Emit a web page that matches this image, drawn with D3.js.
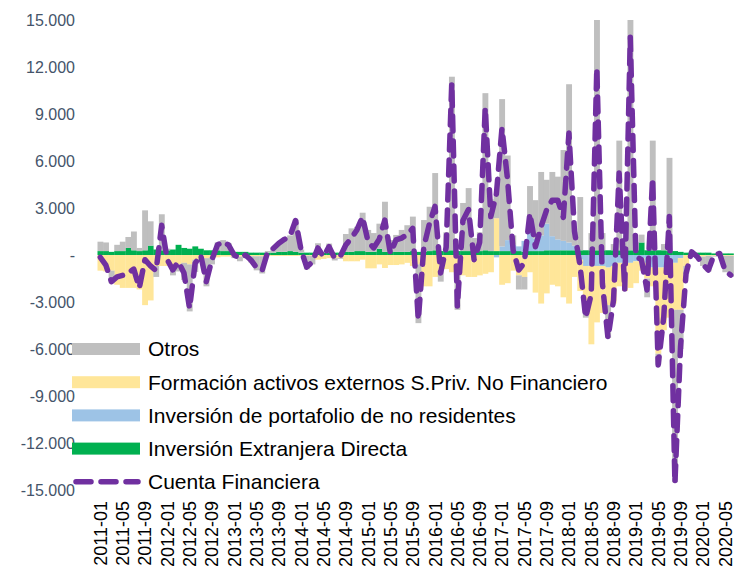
<!DOCTYPE html>
<html>
<head>
<meta charset="utf-8">
<script src="https://cdn.jsdelivr.net/npm/d3@7"></script>
<style>
  body { margin: 0; background: #fff; }
  svg { font-family: "Liberation Sans", Arial, sans-serif; }
</style>
</head>
<body>
<div id="chart"></div>
<script>
// monthly categories 2011-01 .. 2020-06
const months = d3.timeMonth.range(new Date(2011, 0, 1), new Date(2020, 6, 1)).map(d3.timeFormat("%Y-%m"));

// Inversión Extranjera Directa
const ied = [
  250, 250, 200, 250, 250, 450, 300, 250, 300, 600, 350, 300,
  300, 350, 650, 450, 400, 550, 400, 300, 300, 300, 250, 250,
  200, 200, 200, 150, 150, 150, 150, 150, 200, 200, 250, 200,
  150, 150, 150, 150, 150, 150, 150, 150, 200, 200, 250, 250,
  200, 200, 400, 200, 200, 200, 200, 200, 250, 200, 200, 250,
  300, 250, 250, 300, 250, 250, 250, 250, 250, 300, 250, 250,
  250, 250, 250, 250, 200, 250, 250, 250, 300, 300, 300, 300,
  300, 300, 300, 300, 300, 300, 300, 300, 300, 300, 300, 300,
  300, 800, 300, 300, 300, 300, 250, 250, 200, 150, 150, 150,
  150, 150, 100, 100, 100, 100
];

// Inversión de portafolio de no residentes
const portafolio = [
  0, 0, 0, 0, 0, 0, 0, 0, 0, 0, 0, 0,
  0, 0, 0, 0, 0, 0, 0, 0, 0, 0, 0, 0,
  0, 0, 0, 0, 0, 0, 0, 0, 0, 0, 0, 0,
  0, 0, 0, 0, 0, 0, 0, 0, 0, 0, 0, 0,
  0, 0, 0, 0, 0, 0, 0, 0, 0, 0, 0, 0,
  0, 0, 0, 0, 0, 0, 0, 0, 0, 0, 0, -150,
  300, 700, 400, 300, 700, 1500, 800, 1000, 1700, 900, 700, 600,
  500, 300, -300, -700, -700, -700, -700, -800, -700, -500, -600, -500,
  -400, -200, -500, -800, -800, -800, -800, -500, -200, 0, 0, 0,
  0, 0, 0, 0, 0, 0
];

// Formación activos externos S.Priv. No Financiero
const fae = [
  -1000, -1050, -1000, -1900, -2100, -2100, -2100, -2200, -3200, -2900, -700, -700,
  -700, -650, -600, -500, -600, -300, -250, -200, -150, -150, -100, -100,
  -100, -100, -100, -80, -80, -80, -60, -60, -60, -60, -60, -60,
  -50, -50, -50, -300, -250, -200, -200, -200, -400, -400, -400, -300,
  -850, -850, -600, -830, -640, -640, -600, -500, -700, -600, -2000, -2000,
  -1400, -1000, -900, -1100, -1200, -1300, -1400, -1400, -1300, -1200, -1100, 2100,
  -1900, -1800, -1000, -1300, -1400, -1100, -2400, -3100, -2450, -1900, -2000, -2700,
  -3100, -1400, -2000, -3000, -5000, -3600, -3000, -2400, -2400, -1500, -1700, -1600,
  -1400, -800, -1000, -1200, -5500, -4000, -3200, -3000, -3300, -700, -100, -100,
  -100, -50, -50, -50, -50, -50
];

// Otros
const otros = [
  600, 550, -800, 400, 600, 700, 1200, 200, 2550, 1550, -700, 2300,
  100, -650, -450, -1100, -3000, -780, -150, -1800, -450, 500, 700, 500,
  -100, -300, -100, -390, -900, -1100, 100, 330, 600, 850, 1000, 2050,
  200, -870, -550, 600, 0, 580, -150, -50, 1140, 1500, 1550, 2450,
  1400, 1200, 1600, 3200, 760, 1080, 1400, 1700, 2200, -3750, 2030, 2830,
  4930, -700, 1200, 11080, -2300, 3070, 4020, 830, 1200, 10030, 3300, 1500,
  9400, 5400, 600, -900, -800, 2650, 2450, 4050, 2800, 4100, 4000, 5800,
  10100, 900, 3400, -300, 1100, 14700, 1100, -2100, 400, 7000, 700, 14700,
  500, 500, -1200, 7000, -700, 400, 5950, -11000, -2500, -500, 100, -100,
  -600, -1000, -50, 50, -1050, -1350
];

// Cuenta Financiera
const cuentaFinanciera = [
  -150, -650, -1700, -1400, -1300, -1150, -900, -2100, -300, -700, -1000, 1900,
  -300, -950, -430, -1150, -3400, -530, 0, -1700, -300, 640, 850, 640,
  0, -200, 0, -320, -800, -1000, 200, 420, 750, 1000, 1200, 2200,
  300, -770, -450, 450, -100, 530, -200, -100, 640, 1080, 1600, 2430,
  850, 450, 1000, 2230, 100, 960, 1080, 1300, 1700, -4150, 530, 2000,
  3100, -1150, 500, 10980, -3300, 2200, 2900, -300, 800, 9400, 2450, 3900,
  8100, 4800, 300, -960, -500, 2660, 530, 1800, 2870, 3500, 3500, 2400,
  7780, 1500, -700, -4000, -2500, 11940, -1800, -5300, -2870, 5230, -2230, 13900,
  -100, -300, -2230, 4900, -7020, -3950, 2450, -14560, -5870, -1170, 200, -100,
  -600, -960, 0, 100, -1000, -1280
];

const yTicks = [-15000, -12000, -9000, -6000, -3000, 0, 3000, 6000, 9000, 12000, 15000];

const width = 751, height = 569;

const svg = d3.select("#chart").append("svg")
  .attr("width", width)
  .attr("height", height);

const x = d3.scaleBand()
  .domain(months)
  .range([97.5, 733.5])
  .padding(0);

const y = d3.scaleLinear()
  .domain([-15000, 15000])
  .range([490, 20]);

// stacked table: order from zero outwards
const keys = ["ied", "portafolio", "fae", "otros"];
const colors = { ied: "#00B050", portafolio: "#9DC3E6", fae: "#FFE699", otros: "#BFBFBF" };
const table = months.map((m, i) => ({
  month: m, ied: ied[i], portafolio: portafolio[i], fae: fae[i], otros: otros[i]
}));

const stacked = d3.stack().keys(keys).offset(d3.stackOffsetDiverging)(table);

// y axis labels
const es = d3.formatLocale({ decimal: ",", thousands: ".", grouping: [3], currency: ["$", ""], minus: "-" });
const fmt = es.format(",");

const yAxis = svg.append("g")
  .attr("transform", "translate(79,0)")
  .call(d3.axisLeft(y).tickValues(yTicks).tickSize(0).tickPadding(4)
    .tickFormat(d => d === 0 ? "-  " : fmt(d)));
yAxis.select(".domain").remove();
yAxis.selectAll("text")
  .style("font-size", "16px")
  .attr("fill", "#44546A");

// bars
svg.append("g")
  .selectAll("g")
  .data(stacked)
  .join("g")
  .attr("fill", d => colors[d.key])
  .selectAll("rect")
  .data(d => d)
  .join("rect")
  .attr("x", d => x(d.data.month))
  .attr("width", x.bandwidth() + 0.3)
  .attr("y", d => y(Math.max(d[0], d[1])))
  .attr("height", d => Math.abs(y(d[0]) - y(d[1])));

// financial account line
const line = d3.line()
  .x((d, i) => x(months[i]) + x.bandwidth() / 2)
  .y(d => y(d));

svg.append("path")
  .datum(cuentaFinanciera)
  .attr("d", line)
  .attr("fill", "none")
  .attr("stroke", "#7030A0")
  .attr("stroke-width", 5.5)
  .attr("stroke-linecap", "round")
  .attr("stroke-linejoin", "round")
  .attr("stroke-dasharray", "15 10");

// x axis: every 4th month, rotated
const xAxis = svg.append("g")
  .attr("transform", "translate(0,499)")
  .call(d3.axisBottom(x).tickValues(months.filter((d, i) => i % 4 === 0)).tickSize(0));
xAxis.select(".domain").remove();
xAxis.selectAll("text")
  .attr("transform", "rotate(-90)")
  .attr("text-anchor", "end")
  .attr("x", -2)
  .attr("y", 0)
  .attr("dy", "0.36em")
  .attr("fill", "#000")
  .style("font-size", "18px");

// legend
const legendItems = [
  { label: "Otros", color: colors.otros, type: "bar" },
  { label: "Formación activos externos S.Priv. No Financiero", color: colors.fae, type: "bar" },
  { label: "Inversión de portafolio de no residentes", color: colors.portafolio, type: "bar" },
  { label: "Inversión Extranjera Directa", color: colors.ied, type: "bar" },
  { label: "Cuenta Financiera", color: "#7030A0", type: "line" }
];

const legend = svg.append("g");
const row = legend.selectAll("g")
  .data(legendItems)
  .join("g")
  .attr("transform", (d, i) => `translate(72,${349 + i * 33.2})`);

row.filter(d => d.type === "bar").append("rect")
  .attr("x", 0).attr("y", -6)
  .attr("width", 68).attr("height", 12)
  .attr("fill", d => d.color);

row.filter(d => d.type === "line").append("line")
  .attr("x1", 4).attr("x2", 66)
  .attr("y1", 0).attr("y2", 0)
  .attr("stroke", d => d.color)
  .attr("stroke-width", 5.5)
  .attr("stroke-linecap", "round")
  .attr("stroke-dasharray", "15 10");

row.append("text")
  .attr("x", 76)
  .attr("dy", "0.35em")
  .style("font-size", "21px")
  .attr("fill", "#000")
  .text(d => d.label);
</script>
</body>
</html>
